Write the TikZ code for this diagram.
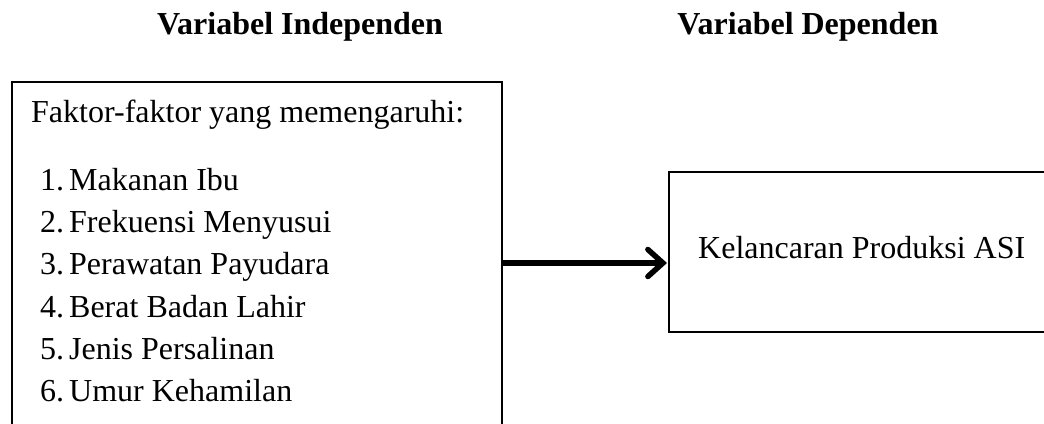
\documentclass[tikz,border=0pt]{standalone}
\usepackage{fontspec}
\setmainfont{Liberation Serif}
\usetikzlibrary{arrows.meta}
\begin{document}
\begin{tikzpicture}[x=1pt,y=-1pt,
  txt/.style={inner sep=0pt,anchor=base west,font=\fontsize{32}{38}\selectfont},
  head/.style={inner sep=0pt,anchor=base,font=\fontsize{32}{38}\selectfont\bfseries},
  boxstyle/.style={draw,line width=1.5pt,inner sep=0pt,anchor=north west},
  item/.style={txt},
  conn/.style={line width=5.5pt,-{Straight Barb[length=15pt,width=27pt,line width=5.5pt,line cap=round]}}]
\useasboundingbox[fill=white] (0,0) rectangle (1044,423);
\node[head] (h1) at (300,34) {Variabel Independen};
\node[head] (h2) at (808,34) {Variabel Dependen};
\node[boxstyle,minimum width=490pt,minimum height=380pt] (left) at (11,81) {};
\node[boxstyle,minimum width=400pt,minimum height=160pt] (right) at (668,171) {};
\node[txt] (t0) at (31,122) {Faktor-faktor yang memengaruhi:};
\node[item] (i1) at (40,190) {\makebox[29pt][l]{1.}Makanan Ibu};
\node[item] (i2) at (40,232) {\makebox[29pt][l]{2.}Frekuensi Menyusui};
\node[item] (i3) at (40,274) {\makebox[29pt][l]{3.}Perawatan Payudara};
\node[item] (i4) at (40,317) {\makebox[29pt][l]{4.}Berat Badan Lahir};
\node[item] (i5) at (40,359) {\makebox[29pt][l]{5.}Jenis Persalinan};
\node[item] (i6) at (40,401) {\makebox[29pt][l]{6.}Umur Kehamilan};
\node[txt] (r) at (698,258) {Kelancaran Produksi ASI};
\coordinate (ay) at (0,263);
\draw[conn] (left.east |- ay) -- ([xshift=-1pt]right.west |- ay);
\end{tikzpicture}
\end{document}
